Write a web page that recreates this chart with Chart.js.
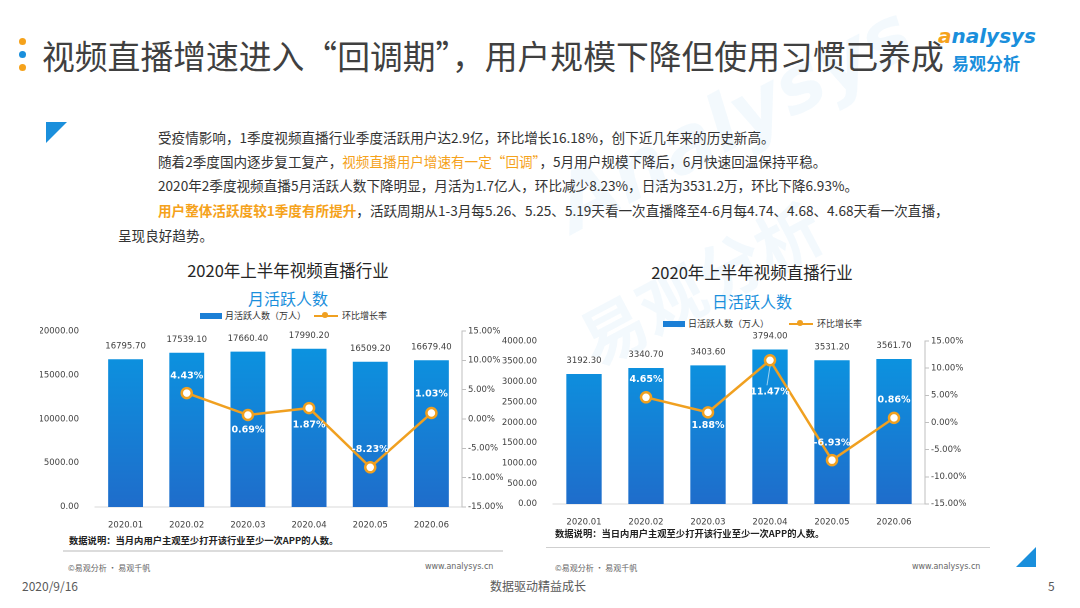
<!DOCTYPE html>
<html>
<head>
<meta charset="utf-8">
<script src="https://cdn.jsdelivr.net/npm/chart.js@4"></script>
<style>
  body { margin: 0; background: #fff; }
  #page { position: relative; width: 1080px; height: 608px; overflow: hidden; background: #fff;
          font-family: "Noto Sans CJK SC", "Noto Sans", sans-serif; color: #404040; }
  .abs { position: absolute; white-space: nowrap; }
  .dot { position: absolute; width: 7px; height: 7px; border-radius: 50%; left: 19px; }
  .para { position: absolute; font-size: 13.6px; color: #333; white-space: nowrap; }
  .hl { color: #f5a21b; }
  .ctitle { position: absolute; font-size: 16.5px; color: #262626; transform: translateX(-50%); white-space: nowrap; }
  .csub { position: absolute; font-size: 16px; color: #1a8fdc; transform: translateX(-50%); white-space: nowrap; }
  .legend { position: absolute; font-size: 9px; color: #333; display: flex; align-items: center; white-space: nowrap; }
  .legbar { width: 22px; height: 6px; background: #1b7fd6; margin-right: 3px; }
  .legline { position: relative; width: 24px; height: 2px; background: #f0a020; margin: 0 4px 0 8px; }
  .legline i { position: absolute; left: 8px; top: -3px; width: 6px; height: 6px; border-radius: 50%; background: #f0a020; }
  .note { position: absolute; font-size: 9.3px; font-weight: bold; color: #222; white-space: nowrap; }
  .sep { position: absolute; height: 2px; background: #dcdcdc; }
  .foot { position: absolute; font-size: 8px; color: #666; white-space: nowrap; }
  canvas { position: absolute; }
  .wm { position: absolute; color: rgba(140, 195, 235, 0.10); font-weight: bold; transform: rotate(-28deg); transform-origin: left top; white-space: nowrap; }
</style>
</head>
<body>
<div id="page">
  <!-- watermark -->
  <div class="wm" style="left:540px;top:170px;font-size:78px;font-style:italic;font-family:'DejaVu Sans';">Analysys</div>
  <div class="wm" style="left:560px;top:300px;font-size:66px;">易观分析</div>

  <!-- header -->
  <div class="dot" style="top:38px;background:#f5a21b"></div>
  <div class="dot" style="top:51px;background:#1a8fdc"></div>
  <div class="dot" style="top:64px;background:#f5a21b"></div>
  <div class="abs" style="left:42px;top:31px;font-size:32.8px;color:#404040;">视频直播增速进入“回调期”，用户规模下降但使用习惯已养成</div>
  <div class="abs" style="left:938px;top:24px;font-size:20px;font-style:italic;font-weight:bold;color:#1a8fdc;font-family:'DejaVu Sans';"><span style="color:#f5a21b">a</span>nalysys</div>
  <div class="abs" style="left:952px;top:50px;font-size:17px;font-weight:bold;color:#1a8fdc;">易观分析</div>

  <!-- corner triangles -->
  <svg class="abs" style="left:46px;top:122px" width="21" height="21"><polygon points="0,0 21,0 0,21" fill="#1a8fdc"/></svg>
  <svg class="abs" style="left:1016px;top:547px" width="20" height="20"><polygon points="20,0 20,20 0,20" fill="#1a8fdc"/></svg>

  <!-- text block -->
  <div class="para" style="left:158px;top:127px;">受疫情影响，1季度视频直播行业季度活跃用户达2.9亿，环比增长16.18%，创下近几年来的历史新高。</div>
  <div class="para" style="left:158px;top:151px;">随着2季度国内逐步复工复产，<span class="hl">视频直播用户增速有一定“回调”</span>，5月用户规模下降后，6月快速回温保持平稳。</div>
  <div class="para" style="left:158px;top:175px;">2020年2季度视频直播5月活跃人数下降明显，月活为1.7亿人，环比减少8.23%，日活为3531.2万，环比下降6.93%。</div>
  <div class="para" style="left:158px;top:200px;"><span class="hl" style="font-weight:bold">用户整体活跃度较1季度有所提升</span>，活跃周期从1-3月每5.26、5.25、5.19天看一次直播降至4-6月每4.74、4.68、4.68天看一次直播，</div>
  <div class="para" style="left:118px;top:225px;">呈现良好趋势。</div>

  <!-- left chart headings -->
  <div class="ctitle" style="left:288px;top:258px;">2020年上半年视频直播行业</div>
  <div class="csub" style="left:288px;top:286px;">月活跃人数</div>
  <div class="legend" style="left:200px;top:309px;"><span class="legbar"></span>月活跃人数（万人）<span class="legline"><i></i></span>环比增长率</div>
  <canvas id="chartMau"></canvas>

  <!-- right chart headings -->
  <div class="ctitle" style="left:752px;top:260px;">2020年上半年视频直播行业</div>
  <div class="csub" style="left:752px;top:289px;">日活跃人数</div>
  <div class="legend" style="left:663px;top:317px;"><span class="legbar"></span>日活跃人数（万人）<span class="legline" style="margin-left:20px"><i></i></span>环比增长率</div>
  <canvas id="chartDau"></canvas>

  <!-- notes -->
  <div class="note" style="left:69px;top:533px;">数据说明：当月内用户主观至少打开该行业至少一次APP的人数。</div>
  <div class="sep" style="left:63px;top:550px;width:440px;"></div>
  <div class="note" style="left:555px;top:526px;">数据说明：当日内用户主观至少打开该行业至少一次APP的人数。</div>
  <div class="sep" style="left:546px;top:547px;width:444px;height:1px;background:#cfcfcf"></div>

  <div class="foot" style="left:68px;top:562px;">©易观分析 · 易观千帆</div>
  <div class="foot" style="left:425px;top:562px;font-family:'DejaVu Sans';">www.analysys.cn</div>
  <div class="foot" style="left:555px;top:562px;">©易观分析 · 易观千帆</div>
  <div class="foot" style="left:912px;top:562px;font-family:'DejaVu Sans';">www.analysys.cn</div>

  <div class="abs" style="left:22px;top:577px;font-size:12px;color:#595959;">2020/9/16</div>
  <div class="abs" style="left:490px;top:577px;font-size:12px;color:#595959;">数据驱动精益成长</div>
  <div class="abs" style="left:1048px;top:577px;font-size:12px;color:#595959;">5</div>
</div>

<script>
'use strict';
// data
let months = ['2020.01', '2020.02', '2020.03', '2020.04', '2020.05', '2020.06'];
let mauValues = [16795.70, 17539.10, 17660.40, 17990.20, 16509.20, 16679.40];   // 万人
let mauGrowth = [null, 4.43, 0.69, 1.87, -8.23, 1.03];                          // %
let dauValues = [3192.30, 3340.70, 3403.60, 3794.00, 3531.20, 3561.70];          // 万人
let dauGrowth = [null, 4.65, 1.88, 11.47, -6.93, 0.86];                          // %
let mauTicks = { min: 0, max: 20000, step: 5000 };
let dauTicks = { min: 0, max: 4000, step: 500 };
let rateTicks = { min: -15, max: 15, step: 5 };

// where each growth label sits relative to its point (px, + is down)
let mauLabelShift = [0, -17, 15, 17, -18, -19];
let dauLabelShift = [0, -18, 13, 32, -17, -18];

let tickFont = { family: 'DejaVu Sans', size: 8.5 };
let axisGray = '#bfbfbf';

// bar gradient, lighter on top
function barGradient(context) {
    let chart = context.chart;
    let area = chart.chartArea;
    if (!area) {
        return '#1580d8';
    }
    let g = chart.ctx.createLinearGradient(0, area.top, 0, area.bottom);
    g.addColorStop(0, '#0a97e2');
    g.addColorStop(1, '#1f6dcb');
    return g;
}

// labels on bars and points
let valueLabels = {
    id: 'valueLabels',
    afterDatasetsDraw(chart, args, opts) {
        let ctx = chart.ctx;
        ctx.save();
        ctx.textAlign = 'center';
        ctx.textBaseline = 'middle';
        // bar values
        let barMeta = chart.getDatasetMeta(0);
        ctx.font = '8.5px "DejaVu Sans"';
        ctx.fillStyle = '#404040';
        barMeta.data.forEach(function (bar, i) {
            let v = chart.data.datasets[0].data[i];
            ctx.fillText(v.toFixed(2), bar.x, bar.y - 13);
        });
        // growth rates
        let lineMeta = chart.getDatasetMeta(1);
        ctx.font = 'bold 9.5px "DejaVu Sans"';
        lineMeta.data.forEach(function (pt, i) {
            let v = chart.data.datasets[1].data[i];
            if (v === null) {
                return;
            }
            let dy = opts.shift[i];
            if (Math.abs(dy) > 25) {
                // leader line for labels pushed far away
                ctx.strokeStyle = 'rgba(255,255,255,0.6)';
                ctx.lineWidth = 1;
                ctx.beginPath();
                ctx.moveTo(pt.x, pt.y + 6);
                ctx.lineTo(pt.x - 3, pt.y + dy - 7);
                ctx.stroke();
            }
            ctx.fillStyle = '#ffffff';
            ctx.fillText(v.toFixed(2) + '%', pt.x, pt.y + dy);
        });
        ctx.restore();
    }
};

function makeChart(id, box, values, growth, yTicks, shift, axisWidths) {
    let el = document.getElementById(id);
    el.style.left = box.left + 'px';
    el.style.top = box.top + 'px';
    el.width = box.width;
    el.height = box.height;

    return new Chart(el.getContext('2d'), {
        data: {
            labels: months,
            datasets: [{
                type: 'bar',
                data: values,
                yAxisID: 'yVal',
                backgroundColor: barGradient,
                categoryPercentage: 0.57,
                barPercentage: 1,
                order: 1
            }, {
                type: 'line',
                data: growth,
                yAxisID: 'yRate',
                borderColor: '#f0a020',
                borderWidth: 2.5,
                pointRadius: 5,
                pointBorderWidth: 2.5,
                pointBackgroundColor: '#ffffff',
                pointBorderColor: '#f0a020',
                spanGaps: false,
                order: 0
            }]
        },
        options: {
            responsive: false,
            devicePixelRatio: 2,
            animation: false,
            layout: { padding: { top: axisWidths.top, right: 0, left: 0, bottom: 0 } },
            plugins: {
                legend: { display: false },
                tooltip: { enabled: false },
                valueLabels: { shift: shift }
            },
            scales: {
                x: {
                    grid: { display: false },
                    border: { display: true, color: '#d9d9d9', width: 1 },
                    ticks: { font: tickFont, color: '#404040', padding: 5 },
                    afterFit: function (axis) { axis.height = axisWidths.bottom; }
                },
                yVal: {
                    position: 'left',
                    min: yTicks.min,
                    max: yTicks.max,
                    grid: { display: false },
                    border: { display: false },
                    ticks: {
                        stepSize: yTicks.step,
                        font: tickFont,
                        color: '#404040',
                        padding: 8,
                        callback: function (v) { return Number(v).toFixed(2); }
                    },
                    afterFit: function (axis) { axis.width = axisWidths.left; }
                },
                yRate: {
                    position: 'right',
                    min: rateTicks.min,
                    max: rateTicks.max,
                    grid: { display: true, drawOnChartArea: false, drawTicks: true, tickLength: 4, color: axisGray },
                    border: { display: true, color: axisGray, width: 1 },
                    ticks: {
                        stepSize: rateTicks.step,
                        font: tickFont,
                        color: '#404040',
                        padding: 2,
                        callback: function (v) { return Number(v).toFixed(2) + '%'; }
                    },
                    afterFit: function (axis) { axis.width = axisWidths.right; }
                }
            }
        },
        plugins: [valueLabels]
    });
}

makeChart('chartMau', { left: 40, top: 318, width: 470, height: 212 }, mauValues, mauGrowth, mauTicks,
    mauLabelShift, { left: 55, right: 48, top: 9, bottom: 23 });
makeChart('chartDau', { left: 495, top: 328, width: 480, height: 197 }, dauValues, dauGrowth, dauTicks,
    dauLabelShift, { left: 58, right: 50, top: 10, bottom: 21 });
</script>
</body>
</html>
